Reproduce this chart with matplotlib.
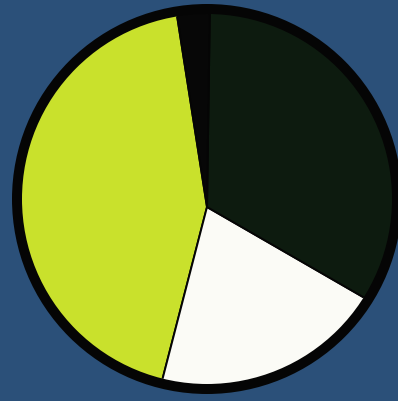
import matplotlib
matplotlib.use("Agg")
import matplotlib.pyplot as plt
from matplotlib.patches import Circle

# Share of each segment (percent), counter-clockwise from the start angle
labels = ["Hellgrün", "Weiß", "Dunkelgrün", "Schwarz"]
values = [43.5, 20.7, 33.1, 2.7]
colors = ["#c9e12c", "#fbfbf6", "#0d1b0f", "#070707"]

W, H = 398, 402
fig = plt.figure(figsize=(W / 100, H / 100), dpi=100)
fig.patch.set_facecolor("#2b5079")
ax = fig.add_axes([0, 0, 1, 1])
ax.set_facecolor("#2b5079")

# disc geometry in pixel units (y measured from the bottom)
disc_cx, disc_cy = 207, H - 200
outer_r, inner_r = 195, 185
hub_cx, hub_cy = 207, H - 208

wedges, _ = ax.pie(values, colors=colors, startangle=98.9, counterclock=True,
                   center=(hub_cx, hub_cy), radius=230,
                   wedgeprops=dict(edgecolor="#050505", linewidth=1.4),
                   normalize=True)

ax.set_xlim(0, W)
ax.set_ylim(0, H)
ax.set_aspect("equal")
ax.axis("off")

# black outer rim below the segments
ax.add_patch(Circle((disc_cx, disc_cy), outer_r, facecolor="#050505",
                    edgecolor="none", zorder=1))

clip = Circle((disc_cx, disc_cy), inner_r, transform=ax.transData)
for w in wedges:
    w.set_zorder(2)
    w.set_clip_on(True)
    w.set_clip_path(clip)

fig.savefig("out.png", dpi=100, facecolor=fig.get_facecolor())
